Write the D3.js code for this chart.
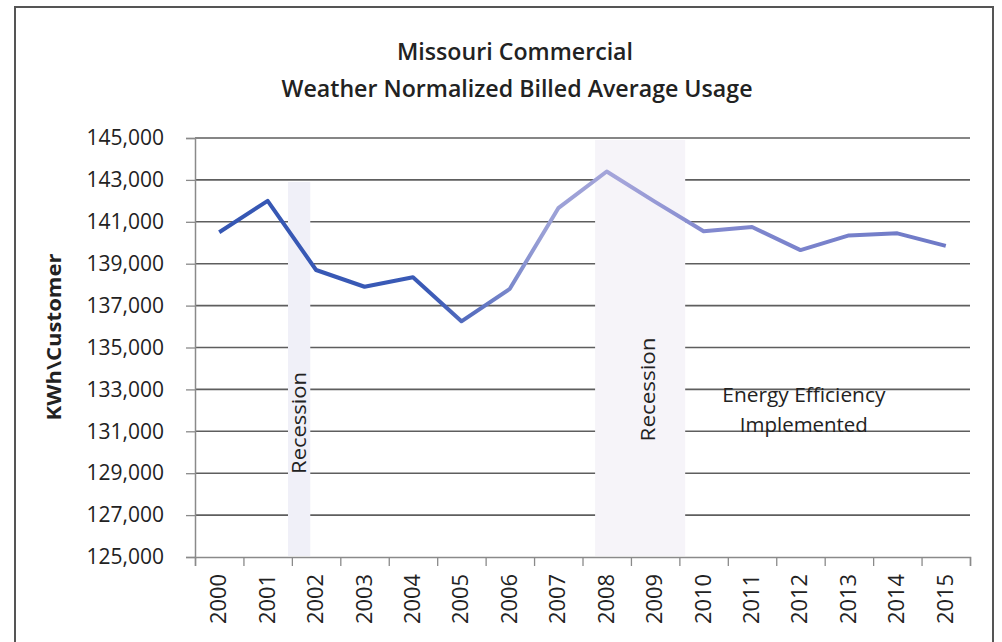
<!DOCTYPE html>
<html>
<head>
<meta charset="utf-8">
<script src="https://cdn.jsdelivr.net/npm/d3@7"></script>
<style>
  body { margin:0; background:#fff; }
  svg { display:block; }
  text { font-family: "Open Sans", "DejaVu Sans", sans-serif; fill:#222; }
</style>
</head>
<body>
<svg id="chart" width="1002" height="642"></svg>
<script>
// 데이터
var years = ["2000","2001","2002","2003","2004","2005","2006","2007","2008","2009","2010","2011","2012","2013","2014","2015"]
var usage = [140500, 142000, 138700, 137900, 138350, 136250, 137800, 141650, 143400, 141950, 140550, 140750, 139650, 140350, 140450, 139850]
var yTicks = [125000, 127000, 129000, 131000, 133000, 135000, 137000, 139000, 141000, 143000, 145000]
var recessionStart = [2001.42, 2007.76]
var recessionEnd = [2001.88, 2009.62]
var recessionTop = [143000, 145000]
var titleLines = ["Missouri Commercial", "Weather Normalized Billed Average Usage"]

var svg = d3.select("#chart")
var plotL = 195, plotR = 970, plotT = 138, plotB = 557

var x = d3.scaleBand().domain(years).range([plotL, plotR]).padding(0)
var xYear = d3.scaleLinear().domain([1999.5, 2015.5]).range([plotL, plotR])
var y = d3.scaleLinear().domain([125000, 145000]).range([plotB, plotT])

// 바깥 테두리
svg.append("path")
   .attr("d", "M15,650 L15,7 L993,7 L993,650")
   .attr("fill","none").attr("stroke","#555").attr("stroke-width",2)

// 제목
svg.append("text").attr("x",515).attr("y",60).attr("text-anchor","middle")
   .attr("font-size",23).attr("font-weight",600).attr("textLength",236).attr("lengthAdjust","spacingAndGlyphs")
   .text(titleLines[0])
svg.append("text").attr("x",517).attr("y",97).attr("text-anchor","middle")
   .attr("font-size",23).attr("font-weight",600).attr("textLength",471).attr("lengthAdjust","spacingAndGlyphs")
   .text(titleLines[1])

// 격자선
svg.append("g").selectAll("line").data(yTicks.slice(1)).enter().append("line")
   .attr("x1",plotL).attr("x2",plotR)
   .attr("y1",function(d){ return y(d) }).attr("y2",function(d){ return y(d) })
   .attr("stroke","#5e5e5e").attr("stroke-width",1.6)

// 경기침체 구간
svg.append("g").selectAll("rect").data(recessionStart).enter().append("rect")
   .attr("x",function(d){ return xYear(d) })
   .attr("width",function(d,i){ return xYear(recessionEnd[i]) - xYear(d) })
   .attr("y",function(d,i){ return y(recessionTop[i]) + 2 })
   .attr("height",function(d,i){ return plotB - y(recessionTop[i]) - 3 })
   .attr("fill",function(d,i){ return i==0 ? "#f0f0f8" : "#f6f4f9" })

// y축
var yAxis = d3.axisLeft(y).tickValues(yTicks).tickSize(9).tickPadding(22)
   .tickFormat(d3.format(","))
var gy = svg.append("g").attr("transform","translate("+plotL+",0)").call(yAxis)
gy.select(".domain").attr("stroke","#8a8a8a").attr("stroke-width",1.5)
gy.selectAll(".tick line").attr("stroke","#8a8a8a").attr("stroke-width",1.3)
gy.selectAll(".tick text").attr("font-size",21).attr("fill","#222")
   .attr("font-family","'Open Sans', sans-serif")

// x축
var xAxis = d3.axisBottom(xYear).tickValues(d3.range(1999.5, 2016, 1)).tickSize(9).tickFormat("")
var gx = svg.append("g").attr("transform","translate(0,"+plotB+")").call(xAxis)
gx.select(".domain").attr("stroke","#8a8a8a").attr("stroke-width",1.5)
gx.selectAll(".tick line").attr("stroke","#8a8a8a").attr("stroke-width",1.3)

svg.append("g").selectAll("text").data(years).enter().append("text")
   .attr("transform",function(d){ return "translate("+(x(d)+x.bandwidth()/2+7)+",574) rotate(-90)" })
   .attr("text-anchor","end").attr("font-size",21)
   .attr("textLength",50).attr("lengthAdjust","spacingAndGlyphs")
   .text(function(d){ return d })

// y축 제목
svg.append("text").attr("transform","translate(61,337) rotate(-90)")
   .attr("text-anchor","middle").attr("font-size",19).attr("font-weight","bold")
   .attr("textLength",167).attr("lengthAdjust","spacingAndGlyphs")
   .text("KWh\\Customer")

// 선 색 그라데이션 (스캔 색감)
var grad = svg.append("defs").append("linearGradient").attr("id","lineGrad")
   .attr("gradientUnits","userSpaceOnUse").attr("x1",plotL).attr("x2",plotR).attr("y1",0).attr("y2",0)
var stops = [[0,"#3556b3"],[0.3,"#3a5ab6"],[0.36,"#5a70c0"],[0.45,"#9aa0d6"],[0.55,"#a4a4da"],[0.66,"#8289cf"],[1,"#6c78c6"]]
stops.forEach(function(s){ grad.append("stop").attr("offset",s[0]).attr("stop-color",s[1]) })

var line = d3.line()
   .x(function(d,i){ return x(years[i]) + x.bandwidth()/2 })
   .y(function(d){ return y(d) })
svg.append("path").datum(usage).attr("d",line)
   .attr("fill","none").attr("stroke","url(#lineGrad)").attr("stroke-width",4)
   .attr("stroke-linejoin","round")

// 주석
svg.append("text").attr("transform","translate("+(xYear(2001.65)+7)+","+y(131400)+") rotate(-90)")
   .attr("text-anchor","middle").attr("font-size",20).attr("textLength",102).attr("lengthAdjust","spacingAndGlyphs").text("Recession")
svg.append("text").attr("transform","translate("+(xYear(2008.85)+7)+","+y(133000)+") rotate(-90)")
   .attr("text-anchor","middle").attr("font-size",20).attr("textLength",104).attr("lengthAdjust","spacingAndGlyphs").text("Recession")
svg.append("text").attr("x",xYear(2012.07)).attr("y",402).attr("text-anchor","middle")
   .attr("font-size",20).attr("textLength",163).attr("lengthAdjust","spacingAndGlyphs").text("Energy Efficiency")
svg.append("text").attr("x",xYear(2012.07)).attr("y",432).attr("text-anchor","middle")
   .attr("font-size",20).attr("textLength",128).attr("lengthAdjust","spacingAndGlyphs").text("Implemented")
</script>
</body>
</html>
